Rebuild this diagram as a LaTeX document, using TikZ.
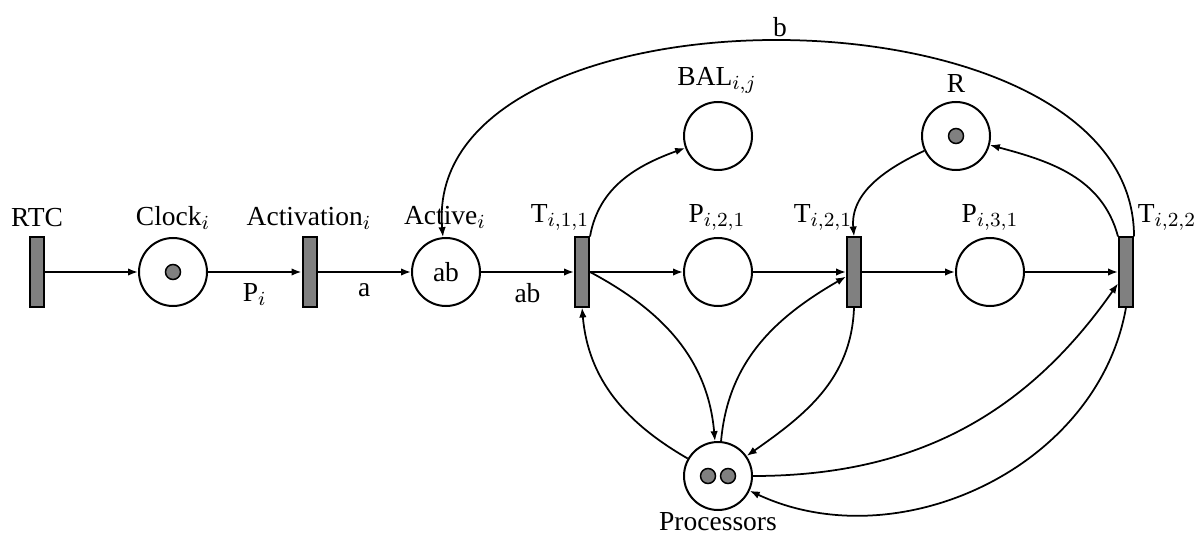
\documentclass[tikz,border=0pt]{standalone}
\usepackage{fontspec}
\setmainfont{Liberation Serif}
\usetikzlibrary{arrows.meta}
\tikzset{
  place/.style={circle,draw,line width=0.8pt,minimum size=27.2pt,inner sep=0pt},
  trans/.style={rectangle,draw,line width=0.8pt,fill=gray,minimum width=5.6pt,minimum height=27.6pt,inner sep=0pt},
  lbl/.style={inner sep=0pt},
  arc/.style={line width=0.7pt,-{Latex[length=4pt,width=3pt]}}
}
\begin{document}
\begin{tikzpicture}[x=0.4pt,y=-0.4pt,font=\fontsize{11}{13}\selectfont]
\useasboundingbox (0,0) rectangle (1203,545);

\coordinate (cRTC) at (37,272);
\coordinate (cClock) at (173,272);
\coordinate (cAct) at (309.5,272);
\coordinate (cActive) at (446,272);
\coordinate (cT111) at (582,272);
\coordinate (cBAL) at (718,136);
\coordinate (cP121) at (718,272);
\coordinate (cT211) at (854,272);
\coordinate (cR) at (956,136);
\coordinate (cP131) at (990,272);
\coordinate (cT222) at (1126,272);
\coordinate (cProc) at (718,476);

\node[trans] (RTC) at (cRTC) {};
\node[place] (Clock) at (cClock) {};
\node[trans] (Act) at (cAct) {};
\node[place] (Active) at (cActive) {ab};
\node[trans] (T111) at (cT111) {};
\node[place] (BAL) at (cBAL) {};
\node[place] (P121) at (cP121) {};
\node[trans] (T211) at (cT211) {};
\node[place] (R) at (cR) {};
\node[place] (P131) at (cP131) {};
\node[trans] (T222) at (cT222) {};
\node[place] (Proc) at (cProc) {};

% tokens
\filldraw[fill=gray,line width=0.6pt] (cClock) circle (3pt);
\filldraw[fill=gray,line width=0.6pt] (cR) circle (3pt);
\filldraw[fill=gray,line width=0.6pt] (708,476) circle (3pt);
\filldraw[fill=gray,line width=0.6pt] (728,476) circle (3pt);

% labels
\node[lbl] (lRTC) at (37,218) {RTC};
\node[lbl] (lClock) at (173,218) {Clock$_i$};
\node[lbl] (lAct) at (309,218) {Activation$_i$};
\node[lbl] (lActive) at (445,217) {Active$_i$};
\node[lbl] (lT111) at (560,217) {T$_{i,1,1}$};
\node[lbl] (lBAL) at (717,80) {BAL$_{i,j}$};
\node[lbl] (lP121) at (717,217) {P$_{i,2,1}$};
\node[lbl] (lT211) at (823,217) {T$_{i,2,1}$};
\node[lbl] (lR) at (956,83) {R};
\node[lbl] (lP131) at (990,217) {P$_{i,3,1}$};
\node[lbl] (lT222) at (1167,217) {T$_{i,2,2}$};
\node[lbl] (lProc) at (718,522) {Processors};

% straight arcs
\draw[arc] (RTC) -- (Clock);
\draw[arc] (Clock) -- node[below=1pt] {P$_i$} (Act);
\draw[arc] (Act) -- node[below=1pt] {a} (Active);
\draw[arc] (Active) -- node[below=1pt] {ab} (T111);
\draw[arc] (T111) -- (P121);
\draw[arc] (P121) -- (T211);
\draw[arc] (T211) -- (P131);
\draw[arc] (P131) -- (T222);

% curved arcs
\draw[arc] (T111.north east) to[out=80,in=200] (BAL);
\draw[arc] (R) to[out=205,in=95] (T211.north);
\draw[arc] (T222.north west) to[out=105,in=-15] (R);
\draw[arc] (T222.north east) to[out=90,in=95,looseness=0.97] node[above,inner sep=1.5pt] {b} (Active);
\draw[arc] (Proc) to[out=150,in=-85] (T111.south);
\draw[arc] (T111.east) to[out=-28,in=95] (Proc);
\draw[arc] (Proc) to[out=85,in=210] (T211);
\draw[arc] (T211.south) to[out=-92,in=35] (Proc);
\draw[arc] (Proc) to[out=0,in=235] (T222);
\draw[arc] (T222.south) to[out=-100,in=-25] (Proc);
\end{tikzpicture}
\end{document}
